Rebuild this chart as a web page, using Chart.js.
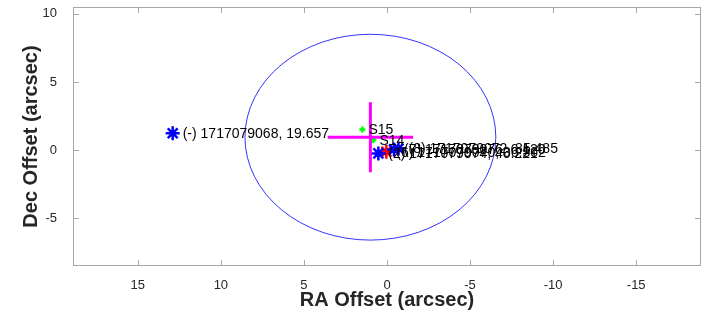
<!DOCTYPE html>
<html>
<head>
<meta charset="utf-8">
<script src="https://cdn.jsdelivr.net/npm/chart.js@4.4.1/dist/chart.umd.min.js"></script>
<style>
  html, body { margin: 0; padding: 0; background: #fff; }
  #wrap { width: 705px; height: 320px; }
</style>
</head>
<body>
<div id="wrap"><canvas id="myChart"></canvas></div>
<script>
// catalogue matches (blue), primary match (red), field sources (green)
const starX = [12.9, 0.52, -0.42, -0.69];
const starY = [1.24, -0.24, 0.05, 0.12];
const starLabels = ['(-) 1717079068, 19.657', '(2) 1717079074, 40.221', '(7) 1717079076, 6.120', '(8) 1717079072, 85.485'];

const redX = [0.04];
const redY = [-0.12];
const redLabels = ['(6) 1717079070, 36.502'];

const srcX = [1.48, 0.82];
const srcY = [1.51, 0.73];
const srcLabels = ['S15', 'S14'];

// pointing position cross and search radius
const crossCenter = [1.0, 0.95];
const crossArm = 2.57;
const searchRadius = 7.55;

const xTicks = [-15, -10, -5, 0, 5, 10, 15];
const yTicks = [-5, 0, 5, 10];

const toPts = (xs, ys) => xs.map((x, i) => ({ x: x, y: ys[i] }));

const ctx = document.getElementById('myChart');

// search circle, drawn in data units through the scales
const circlePlugin = {
  id: 'circle',
  beforeDatasetsDraw(chart) {
    const { ctx, scales: { x, y }, chartArea } = chart;
    const cx = x.getPixelForValue(crossCenter[0]);
    const cy = y.getPixelForValue(crossCenter[1]);
    const rx = Math.abs(x.getPixelForValue(crossCenter[0] + searchRadius) - cx);
    const ry = Math.abs(y.getPixelForValue(crossCenter[1] + searchRadius) - cy);
    ctx.save();
    ctx.beginPath();
    ctx.rect(chartArea.left, chartArea.top, chartArea.width, chartArea.height);
    ctx.clip();
    ctx.beginPath();
    ctx.ellipse(cx, cy, rx, ry, 0, 0, Math.PI * 2);
    ctx.strokeStyle = 'rgba(0,0,255,0.8)';
    ctx.lineWidth = 1;
    ctx.stroke();
    ctx.restore();
  }
};

// box with inward ticks on all sides
const framePlugin = {
  id: 'frame',
  afterDraw(chart) {
    const { ctx, scales: { x, y }, chartArea: a } = chart;
    ctx.save();
    ctx.strokeStyle = '#a8a8a8';
    ctx.lineWidth = 1;
    ctx.strokeRect(a.left + 0.5, a.top + 0.5, a.width - 1, a.height - 1);
    ctx.beginPath();
    x.ticks.forEach(t => {
      const px = Math.round(x.getPixelForValue(t.value)) + 0.5;
      ctx.moveTo(px, a.bottom); ctx.lineTo(px, a.bottom - 6);
      ctx.moveTo(px, a.top); ctx.lineTo(px, a.top + 6);
    });
    y.ticks.forEach(t => {
      const py = Math.round(y.getPixelForValue(t.value)) + 0.5;
      ctx.moveTo(a.left, py); ctx.lineTo(a.left + 6, py);
      ctx.moveTo(a.right, py); ctx.lineTo(a.right - 6, py);
    });
    ctx.stroke();
    ctx.restore();
  }
};

// text next to each marker
const labelPlugin = {
  id: 'pointLabels',
  afterDatasetsDraw(chart) {
    const { ctx } = chart;
    ctx.save();
    ctx.font = '14px "Liberation Sans", Arial, sans-serif';
    ctx.fillStyle = '#000';
    ctx.textBaseline = 'middle';
    chart.data.datasets.forEach((ds, i) => {
      if (!ds.labels) return;
      const meta = chart.getDatasetMeta(i);
      meta.data.forEach((el, j) => {
        ctx.fillText(ds.labels[j], el.x + ds.pointRadius + 3, el.y + 1);
      });
    });
    ctx.restore();
  }
};

new Chart(ctx, {
  type: 'scatter',
  data: {
    datasets: [
      {
        type: 'line',
        data: [{ x: crossCenter[0] + crossArm, y: crossCenter[1] }, { x: crossCenter[0] - crossArm, y: crossCenter[1] }],
        borderColor: '#ff00ff',
        borderWidth: 3,
        pointRadius: 0,
        showLine: true
      },
      {
        type: 'line',
        data: [{ x: crossCenter[0], y: crossCenter[1] + crossArm }, { x: crossCenter[0], y: crossCenter[1] - crossArm }],
        borderColor: '#ff00ff',
        borderWidth: 3,
        pointRadius: 0,
        showLine: true
      },
      {
        data: toPts(srcX, srcY),
        labels: srcLabels,
        pointStyle: 'cross',
        pointRadius: 3,
        borderColor: '#00ff00',
        backgroundColor: '#00ff00',
        borderWidth: 2.5
      },
      {
        data: toPts(starX, starY),
        labels: starLabels,
        pointStyle: 'star',
        pointRadius: 7,
        borderColor: '#0000ff',
        backgroundColor: '#0000ff',
        borderWidth: 2.5
      },
      {
        data: toPts(redX, redY),
        labels: redLabels,
        pointStyle: 'star',
        pointRadius: 7,
        borderColor: '#ff0000',
        backgroundColor: '#ff0000',
        borderWidth: 2.5
      }
    ]
  },
  options: {
    responsive: true,
    maintainAspectRatio: false,
    animation: false,
    layout: { autoPadding: false, padding: { left: 0, right: 4, top: 7, bottom: 0 } },
    plugins: {
      legend: { display: false },
      tooltip: { enabled: false }
    },
    scales: {
      x: {
        type: 'linear',
        reverse: true,
        min: -18.9,
        max: 18.9,
        grid: { display: false },
        border: { display: false },
        afterFit: s => { s.height = 54; s.paddingLeft = 0; s.paddingRight = 0; },
        afterBuildTicks: s => { s.ticks = xTicks.map(v => ({ value: v })); },
        ticks: {
          includeBounds: false,
          padding: 4,
          maxRotation: 0,
          color: '#262626',
          font: { family: '"Liberation Sans", Arial, sans-serif', size: 13 }
        },
        title: {
          display: true,
          text: 'RA Offset (arcsec)',
          color: '#262626',
          padding: { top: 0, bottom: 8 },
          font: { family: '"Liberation Sans", Arial, sans-serif', size: 20, weight: 'bold' }
        }
      },
      y: {
        type: 'linear',
        min: -8.5,
        max: 10.5,
        grid: { display: false },
        border: { display: false },
        afterFit: s => { s.width = 73; s.paddingTop = 0; s.paddingBottom = 0; },
        afterBuildTicks: s => { s.ticks = yTicks.map(v => ({ value: v })); },
        ticks: {
          includeBounds: false,
          padding: 8,
          color: '#262626',
          font: { family: '"Liberation Sans", Arial, sans-serif', size: 13 }
        },
        title: {
          display: true,
          text: 'Dec Offset (arcsec)',
          color: '#262626',
          padding: { top: 19, bottom: 0 },
          font: { family: '"Liberation Sans", Arial, sans-serif', size: 20, weight: 'bold' }
        }
      }
    }
  },
  plugins: [circlePlugin, framePlugin, labelPlugin]
});
</script>
</body>
</html>
